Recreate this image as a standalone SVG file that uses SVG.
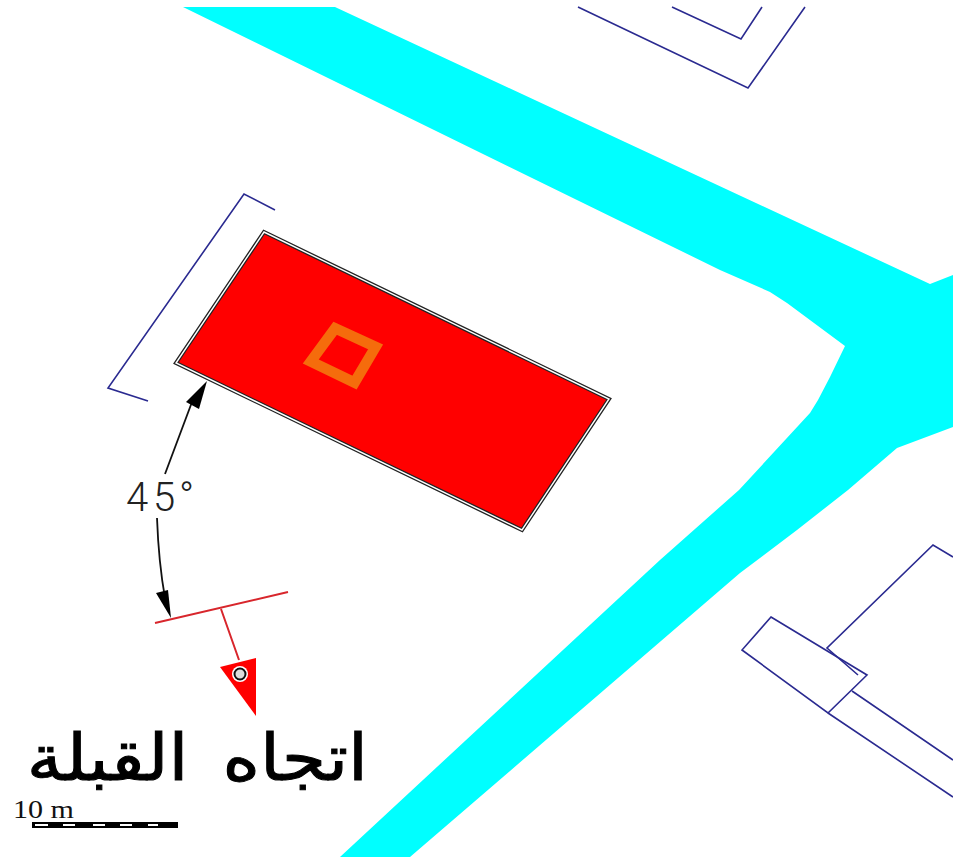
<svg xmlns="http://www.w3.org/2000/svg" width="953" height="857" viewBox="0 0 953 857">
<defs>
<style>
.b{fill:none;stroke:#2a2a90;stroke-width:1.6}
.r{fill:none;stroke:#d8262c;stroke-width:2}
.k{fill:none;stroke:#111;stroke-width:1.8}
.h{fill:#000}
</style>
</defs>
<rect width="953" height="857" fill="#fff"/>
<path id="road" fill="#00ffff" d="M183 7H335L930 284L953 275V427L897 448L848 490L797 530L740 573L410 857H340L660 560L739 490L810 413L818 400L830 377L845 346L787 303L770 292L720 270Z"/>
<g id="buildings">
<path class="b" d="M578 7L748 88L805 7"/>
<path class="b" d="M672 7L741 39L762 7"/>
<path class="b" d="M275 210L244 194L108 388L148 401"/>
<path class="b" d="M953 557L933 545L827 648L858 675"/>
<path class="b" d="M771 617L867 675L828 713L742 650Z"/>
<path class="b" d="M852 691L953 760M828 713L953 797"/>
</g>
<g id="mosque">
<path d="M264 232L609 399L522 530L176 363Z" fill="#ff0000"/>
<path d="M264 232L609 399L522 530L176 363Z" fill="none" stroke="#222" stroke-width="4"/>
<path d="M264 232L609 399L522 530L176 363Z" fill="none" stroke="#fff" stroke-width="1.400"/>
<path d="M333 322L383 345L357 389L303 363Z" fill="#ff0000" stroke="#f56c0c" stroke-width="13" transform="translate(344 355) scale(.81) translate(-344 -355)"/>
</g>
<g id="connectors">
<path class="k" d="M157 518C158 545 160 570 165 598"/>
<path class="k" d="M165 474L192 402"/>
<path class="h" d="M171 618L156 593L168 590Z"/>
<path class="h" d="M207 381L186 402L199 409Z"/>
<path class="r" d="M155 623L288 592M221 609L239 660"/>
<path d="M220 667L256 658V716Z" fill="#ff0000"/>
<circle cx="240" cy="674" r="8" fill="#fff"/>
<circle cx="240" cy="674" r="5.500" fill="#ddd" stroke="#111" stroke-width="2"/>
</g>
<g id="labels">
<text x="126 153 179" y="511" font-family="Roboto,sans-serif" font-weight="300" font-size="40" fill="#222">45°</text>
<text transform="translate(368 780) scale(1.120 1)" direction="rtl" font-family="'DejaVu Sans',sans-serif" font-size="64" word-spacing="10" stroke="#000" stroke-width="1" fill="#000">اتجاه القبلة</text>
<text x="13" y="818" font-family="'Liberation Serif',serif" font-size="25" fill="#111" textLength="61" lengthAdjust="spacingAndGlyphs">10 m</text>
<rect x="32" y="822" width="146" height="6" fill="#000"/>
<path d="M35 825H48M63 825H75M93 825H105M120 825H132M148 825H158" stroke="#fff" stroke-width="2" fill="none"/>
</g>
</svg>
